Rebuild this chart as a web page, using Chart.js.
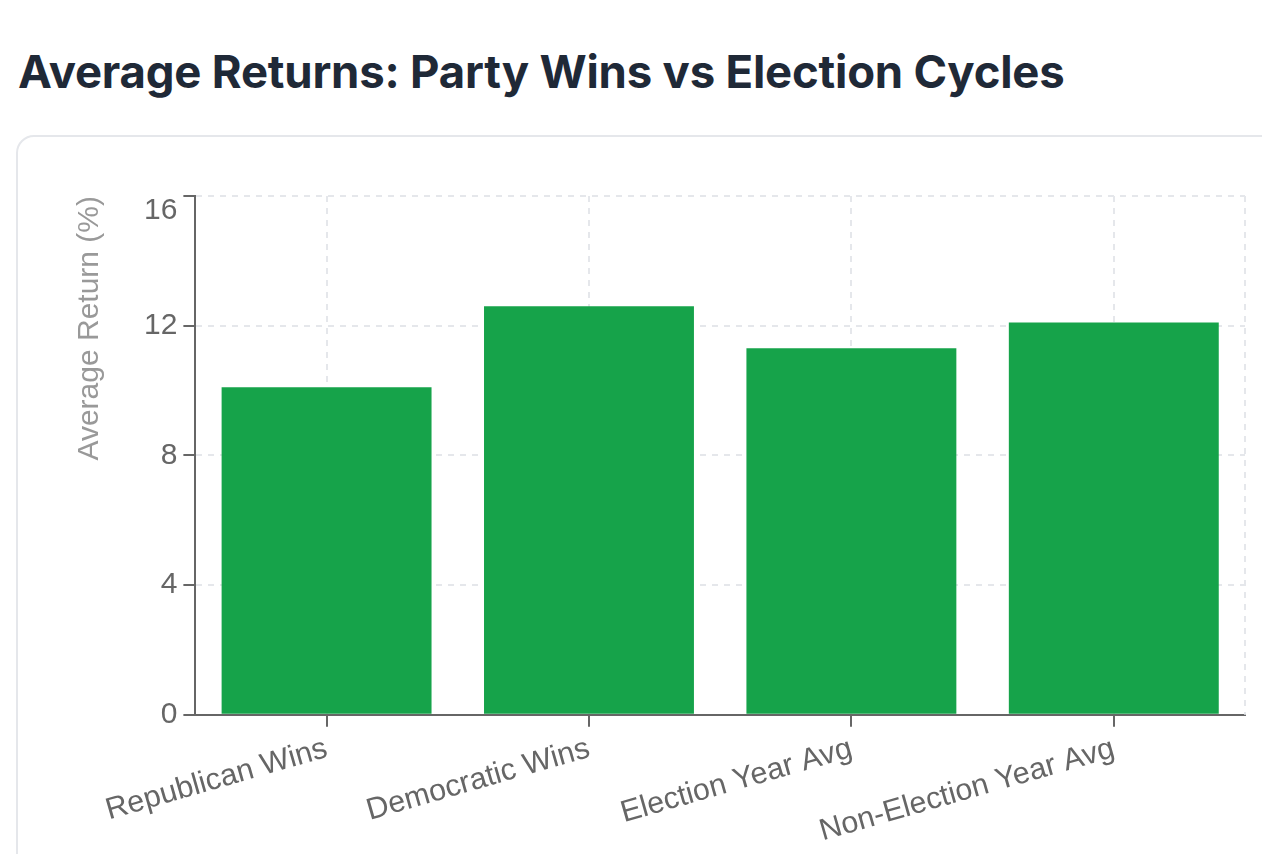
<!DOCTYPE html>
<html>
<head>
<meta charset="utf-8">
<script src="https://cdn.jsdelivr.net/npm/chart.js@4"></script>
<style>
  html, body { margin: 0; padding: 0; background: #fff; overflow: hidden; }
  body { width: 1262px; height: 854px; position: relative; }
  h1 {
    position: absolute; left: 18px; top: 44px; margin: 0;
    font-family: Inter, "Noto Sans", sans-serif; font-weight: 700;
    font-size: 45.5px; color: #1f2937; letter-spacing: -0.2px;
  }
  .card {
    position: absolute; left: 16px; top: 135px; width: 1320px; height: 800px;
    border: 2px solid #e5e7eb; border-radius: 18px; box-sizing: border-box;
  }
  .wrap { position: absolute; left: 16px; top: 150px; width: 1246px; height: 704px; }
</style>
</head>
<body>
<h1>Average Returns: Party Wins vs Election Cycles</h1>
<div class="card"></div>
<div class="wrap"><canvas id="returns_chart"></canvas></div>
<script>
(() => {
	const categories = ['Republican Wins', 'Democratic Wins', 'Election Year Avg', 'Non-Election Year Avg'];
	const avgReturns = [10.1, 12.6, 11.3, 12.1];
	const yTicks = [0, 4, 8, 12, 16];

	const AXIS = '#666666';
	const GRID = '#e5e7eb';
	const FONT = '"Liberation Sans", Arial, Helvetica, sans-serif';
	const yMax = yTicks[yTicks.length - 1];

	// dashed line on the right edge of the plot area, like the reference grid
	const rightEdge = {
		id: 'rightEdge',
		beforeDatasetsDraw(chart) {
			const {ctx, chartArea} = chart;
			ctx.save();
			ctx.strokeStyle = GRID;
			ctx.lineWidth = 2;
			ctx.setLineDash([6, 6]);
			ctx.beginPath();
			ctx.moveTo(chartArea.right, chartArea.top);
			ctx.lineTo(chartArea.right, chartArea.bottom);
			ctx.stroke();
			ctx.restore();
		}
	};

	const data = {
		labels: categories,
		datasets: [
		{
			label: 'Average Return (%)',
			data: avgReturns,
			backgroundColor: '#16a34a',
			borderWidth: 0,
			barPercentage: 0.8,
			categoryPercentage: 1.0
		}
		]
	};

	const config = {
		type: 'bar',
		data: data,
		options: {
			responsive: true,
			maintainAspectRatio: false,
			animation: false,
			layout: { padding: { left: 18, right: 17, top: 46, bottom: 0 } },
			plugins: {
				legend: { display: false },
				tooltip: { enabled: false }
			},
			scales: {
				x: {
					grid: {
						offset: false,
						color: GRID,
						lineWidth: 2,
						tickColor: AXIS,
						tickLength: 12,
						tickWidth: 2
					},
					border: { color: AXIS, width: 2, dash: [6, 6] },
					ticks: {
						color: AXIS,
						font: { family: FONT, size: 30.5 },
						minRotation: 16,
						maxRotation: 16,
						padding: 4,
						autoSkip: false
					}
				},
				y: {
					min: 0,
					max: yMax,
					afterBuildTicks(axis) {
						axis.ticks = yTicks.map(v => ({ value: v }));
					},
					grid: {
						color: GRID,
						lineWidth: 2,
						tickColor: AXIS,
						tickLength: 12,
						tickWidth: 2
					},
					border: { color: AXIS, width: 2, dash: [6, 6] },
					ticks: {
						color: AXIS,
						padding: 6,
						// top label sits just below its tick in the reference
						callback: (v) => v === yMax ? ['', String(v)] : String(v),
						font: (ctx) => ({
							family: FONT,
							size: 30,
							lineHeight: ctx.tick && ctx.tick.value === yMax ? 0.95 : 1.2
						})
					},
					title: {
						display: true,
						text: 'Average Return (%)',
						align: 'end',
						color: '#999999',
						font: { family: FONT, size: 30 },
						padding: { top: 38, bottom: 30 }
					}
				}
			}
		},
		plugins: [rightEdge]
	};

	new Chart(document.getElementById('returns_chart'), config);
})();
</script>
</body>
</html>
